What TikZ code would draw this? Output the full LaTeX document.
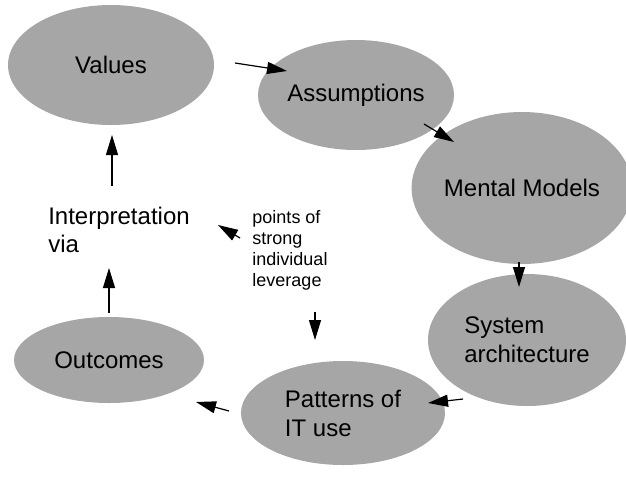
\documentclass[tikz,border=0pt]{standalone}
\usepackage{fontspec}
\setmainfont{Liberation Sans}
\usetikzlibrary{shapes.geometric,arrows.meta}
\definecolor{bubblegray}{gray}{0.65}
\begin{document}
\begin{tikzpicture}[
  x=1pt, y=-1pt,
  bubble/.style={ellipse, fill=bubblegray, inner sep=0pt,
    font=\fontsize{24}{29}\selectfont, align=left},
  note/.style={inner sep=0pt, align=left},
  flow/.style={-{Triangle[length=20pt,width=12pt]}, line width=1.2pt}
]
\useasboundingbox (0,0) rectangle (626,480);
% the cycle
\node[bubble, minimum width=206pt, minimum height=120pt] (values) at (111,65) {Values};
\node[bubble, minimum width=196pt, minimum height=110pt] (assump) at (356,95) {Assumptions};
\node[bubble, minimum width=206pt, minimum height=152pt] (mental) at (522,188) {Mental Models};
\node[bubble, minimum width=198pt, minimum height=132pt] (sysarch) at (527,340) {System\\architecture};
\node[bubble, minimum width=204pt, minimum height=104pt] (patterns) at (343,413) {Patterns of\\IT use};
\node[bubble, minimum width=190pt, minimum height=86pt] (outcomes) at (109,360) {Outcomes};
\node[note, font=\fontsize{24}{28}\selectfont] (interp) at (119,230) {Interpretation\\via};
\node[note, font=\fontsize{18}{21}\selectfont] (lever) at (290,250) {points of\\strong\\individual\\leverage};

% arrow ends
\coordinate (va) at (235,63);   \coordinate (av) at (287,71);
\coordinate (am) at (424,124);  \coordinate (ma) at (454,142);
\coordinate (ms) at (519,262);  \coordinate (sm) at (519,287);
\coordinate (sp) at (463,399);  \coordinate (ps) at (428,403);
\coordinate (po) at (229,411);  \coordinate (op) at (196,402);
\coordinate (oi) at (109,313);  \coordinate (io) at (109,268);
\coordinate (iv) at (112,186);  \coordinate (vi) at (112,135);
\coordinate (li) at (240,238);  \coordinate (il) at (218,225);
\coordinate (lp) at (315,312);  \coordinate (pl) at (315,340);

\draw[flow] (va) -- (av);
\draw[flow] (am) -- (ma);
\draw[flow] (ms) -- (sm);
\draw[flow] (sp) -- (ps);
\draw[flow] (po) -- (op);
\draw[flow] (oi) -- (io);
\draw[flow] (iv) -- (vi);
\draw[flow] (li) -- (il);
\draw[flow] (lp) -- (pl);
\end{tikzpicture}
\end{document}
